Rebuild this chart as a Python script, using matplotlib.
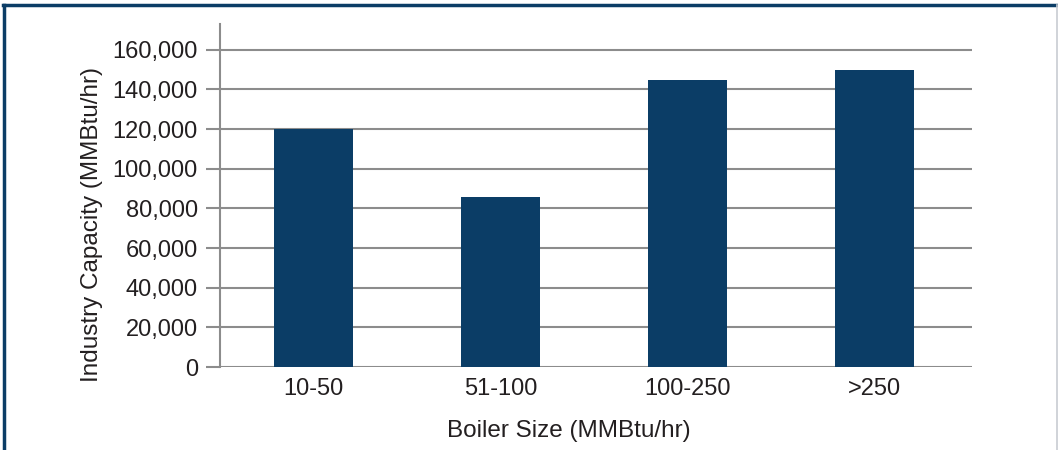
import matplotlib.pyplot as plt
from matplotlib.lines import Line2D
from matplotlib.ticker import FuncFormatter

categories = ['10-50', '51-100', '100-250', '>250']
capacity = [120000, 85500, 145000, 150000]
y_ticks = [0, 20000, 40000, 60000, 80000, 100000, 120000, 140000, 160000]

plt.rcParams['font.family'] = ['Liberation Sans', 'DejaVu Sans']

fig = plt.figure(figsize=(10.58, 4.5), dpi=100)
ax = fig.add_axes([220 / 1058, 1 - 367 / 450, 752 / 1058, 343 / 450])

x = range(len(categories))
ax.bar(x, capacity, width=0.425, color='#0b3d66', zorder=3)
ax.set_xlim(-0.5, 3.52)
ax.set_ylim(0, 173000)
ax.set_yticks(y_ticks)
ax.yaxis.set_major_formatter(FuncFormatter(lambda v, p: f'{int(v):,}'))
ax.set_xticks(list(x))
ax.set_xticklabels(categories)

ax.grid(axis='y', color='#8c8c8c', linewidth=1.5, zorder=1)
for s in ['top', 'right', 'bottom']:
    ax.spines[s].set_visible(False)
ax.spines['left'].set_color('#8c8c8c')
ax.spines['left'].set_linewidth(1.5)
ax.tick_params(axis='y', length=10, width=1.5, color='#8c8c8c', labelsize=17, labelcolor='#231f20', pad=6)
ax.tick_params(axis='x', length=0, labelsize=17, labelcolor='#231f20', pad=8)

ax.set_ylabel('Industry Capacity (MMBtu/hr)', fontsize=17.5, color='#231f20')
ax.set_xlabel('Boiler Size (MMBtu/hr)', fontsize=17.5, color='#231f20')
ax.yaxis.set_label_coords(-0.155, 0.415)
ax.xaxis.set_label_coords(0.464, -0.155)

# outer frame
fig.add_artist(Line2D([0.003, 1.0], [1 - 5 / 450, 1 - 5 / 450], transform=fig.transFigure, color='#0b3d66', linewidth=2.5))
fig.add_artist(Line2D([4 / 1058, 4 / 1058], [0, 1 - 5 / 450], transform=fig.transFigure, color='#0b3d66', linewidth=2.5))
fig.add_artist(Line2D([1057 / 1058, 1057 / 1058], [0, 1 - 5 / 450], transform=fig.transFigure, color='#c8ccd2', linewidth=1.2))

fig.savefig('out.png', dpi=100)
